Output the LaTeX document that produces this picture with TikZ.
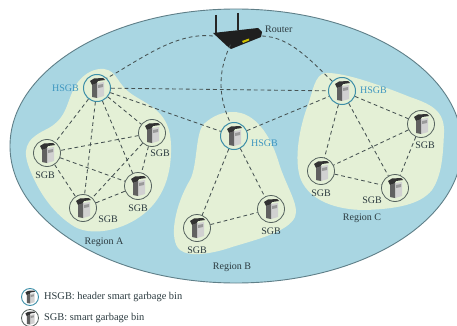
\documentclass[tikz,border=0pt]{standalone}
\usepackage{fontspec}
\setmainfont{Liberation Serif}
\definecolor{seablue}{HTML}{A9D6E2}
\definecolor{seaedge}{HTML}{5F7F88}
\definecolor{landgreen}{HTML}{E4F0D6}
\definecolor{hblue}{HTML}{3F97C0}
\definecolor{inkdark}{HTML}{2C3B40}
\definecolor{sgbring}{HTML}{55625E}
\definecolor{hring}{HTML}{3D8FA8}
\definecolor{linkgrey}{HTML}{465252}
\tikzset{
  x=1pt,y=-1pt,
  regionblob/.style={fill=landgreen,draw=none},
  sgbnode/.style={circle,draw=sgbring,line width=0.8pt,fill=landgreen,minimum size=27pt,inner sep=0pt},
  hsgbnode/.style={circle,draw=hring,line width=1pt,fill=landgreen,minimum size=27pt,inner sep=0pt},
  sgbtext/.style={text=inkdark,font=\fontsize{10}{11}\selectfont,inner sep=0pt},
  keytext/.style={text=inkdark,font=\fontsize{10.4}{12}\selectfont,inner sep=0pt},
  hsgbtext/.style={text=hblue,font=\fontsize{10}{11}\selectfont,inner sep=0pt},
  link/.style={draw=linkgrey,line width=0.85pt,dash pattern=on 3.8pt off 3pt},
  binicon/.pic={
    \fill[black!80] (-7,-7) -- (-3,-9.5) -- (6,-10) -- (8,-8) -- (1,-7) -- (-1,-4) -- (-5,-3) -- cycle;
    \fill[black!18] (0,-5) -- (7,-6) -- (7,8) -- (0,10) -- cycle;
    \fill[black!62] (-5,-3) -- (0,-5) -- (0,10) -- (-5,9) -- cycle;
    \fill[black!40] (1,-3) -- (6,-4) -- (6,-1) -- (1,0) -- cycle;
  }
}
\begin{document}
\begin{tikzpicture}
\useasboundingbox (0,0) rectangle (457,326);
\clip (0,0) rectangle (457,326);
\fill[white] (0,0) rectangle (457,326);
\draw[fill=seablue,draw=seaedge,line width=0.9pt] (236,146) ellipse [x radius=226,y radius=137];
% regions
\fill[regionblob] (104,69) .. controls (118,71) and (116,84) .. (133,95)
  .. controls (150,106) and (170,112) .. (171,145)
  .. controls (172,180) and (160,205) .. (135,220)
  .. controls (115,232) and (90,235) .. (75,227)
  .. controls (55,215) and (40,195) .. (30,170)
  .. controls (22,150) and (25,140) .. (45,130)
  .. controls (70,118) and (65,100) .. (78,82)
  .. controls (85,73) and (95,68) .. (104,69) -- cycle;
\fill[regionblob] (233,112) .. controls (255,112) and (270,135) .. (278,160)
  .. controls (285,185) and (300,205) .. (295,217)
  .. controls (288,232) and (255,240) .. (232,247)
  .. controls (215,253) and (190,258) .. (180,250)
  .. controls (168,240) and (175,205) .. (190,180)
  .. controls (198,165) and (195,130) .. (205,123)
  .. controls (213,116) and (222,112) .. (233,112) -- cycle;
\fill[regionblob] (325,73) .. controls (345,72) and (385,87) .. (410,97)
  .. controls (430,104) and (445,110) .. (444,133)
  .. controls (443,155) and (442,175) .. (432,190)
  .. controls (420,205) and (395,209) .. (365,210)
  .. controls (335,210) and (310,200) .. (301,180)
  .. controls (293,160) and (300,125) .. (308,105)
  .. controls (313,90) and (315,75) .. (325,73) -- cycle;
% nodes
\node[hsgbnode] (ha) at (97,88) {};
\node[sgbnode] (a1) at (152,133) {};
\node[sgbnode] (a2) at (47,153) {};
\node[sgbnode] (a3) at (83,208) {};
\node[sgbnode] (a4) at (138,186) {};
\node[hsgbnode] (hb) at (234,136) {};
\node[sgbnode] (b1) at (197,228) {};
\node[sgbnode] (b2) at (271,209) {};
\node[hsgbnode] (hc) at (342,91) {};
\node[sgbnode] (c1) at (421,124) {};
\node[sgbnode] (c2) at (321,171) {};
\node[sgbnode] (c3) at (395,188) {};
\node[minimum width=49pt,minimum height=17pt,inner sep=0pt] (router) at (237.5,36) {};
% router
\draw[line width=1.3pt,black!85] (216,15) -- (216,34) (238,13) -- (238,30);
\fill[black!88] (213,33) -- (258,28) -- (262,32) -- (261,37) -- (231,49) -- (227,46) -- cycle;
\fill[yellow!55!olive] (242,41) -- (249,38.5) -- (249,40.5) -- (243,43) -- cycle;
% links
\foreach \p/\q in {ha/a1,ha/a2,ha/a3,ha/a4,a1/a2,a1/a3,a1/a4,a2/a3,a2/a4,a3/a4,hb/b1,hb/b2,b1/b2,hc/c1,hc/c2,hc/c3,c1/c2,c1/c3,c2/c3,ha/hb,ha/hc,hb/hc}
  \draw[link] (\p) -- (\q);
\draw[link] (router.west) .. controls (175,32) and (140,60) .. (ha.north east);
\draw[link] ([xshift=-7pt]router.south) .. controls (216,75) and (220,100) .. ([xshift=-4pt]hb.north);
\draw[link] (router.east) .. controls (290,37) and (310,60) .. (hc.north west);
% icons
\foreach \p in {ha,a1,a2,a3,a4,hb,b1,b2,hc,c1,c2,c3}
  \pic at (\p) {binicon};
% labels
\node[sgbtext,anchor=west] (lr) at (265,29) {Router};
\node[hsgbtext,anchor=east] (lha) at (79,88.5) {HSGB};
\node[hsgbtext,anchor=west] (lhb) at (251,143) {HSGB};
\node[hsgbtext,anchor=west] (lhc) at (360,90) {HSGB};
\node[sgbtext] (la1) at (160,153) {SGB};
\node[sgbtext] (la2) at (45,175) {SGB};
\node[sgbtext] (la3) at (108,219) {SGB};
\node[sgbtext] (la4) at (138,208) {SGB};
\node[sgbtext] (lb1) at (197,250) {SGB};
\node[sgbtext] (lb2) at (271,231) {SGB};
\node[sgbtext] (lc1) at (425,145) {SGB};
\node[sgbtext] (lc2) at (321,193) {SGB};
\node[sgbtext] (lc3) at (372,200) {SGB};
\node[sgbtext] (ra) at (104,242) {Region A};
\node[sgbtext] (rb) at (232,267) {Region B};
\node[sgbtext] (rc) at (362,218) {Region C};
% legend
\node[circle,draw=hring,line width=0.9pt,fill=white,minimum size=17pt,inner sep=0pt] (keyh) at (30,297) {};
\node[circle,draw=sgbring,line width=0.8pt,fill=white,minimum size=17pt,inner sep=0pt] (keys) at (30,318) {};
\pic[scale=0.65] at (keyh) {binicon};
\pic[scale=0.65] at (keys) {binicon};
\node[keytext,anchor=west] (th) at (44,297) {HSGB: header smart garbage bin};
\node[keytext,anchor=west] (ts) at (44,318) {SGB: smart garbage bin};
\end{tikzpicture}
\end{document}
